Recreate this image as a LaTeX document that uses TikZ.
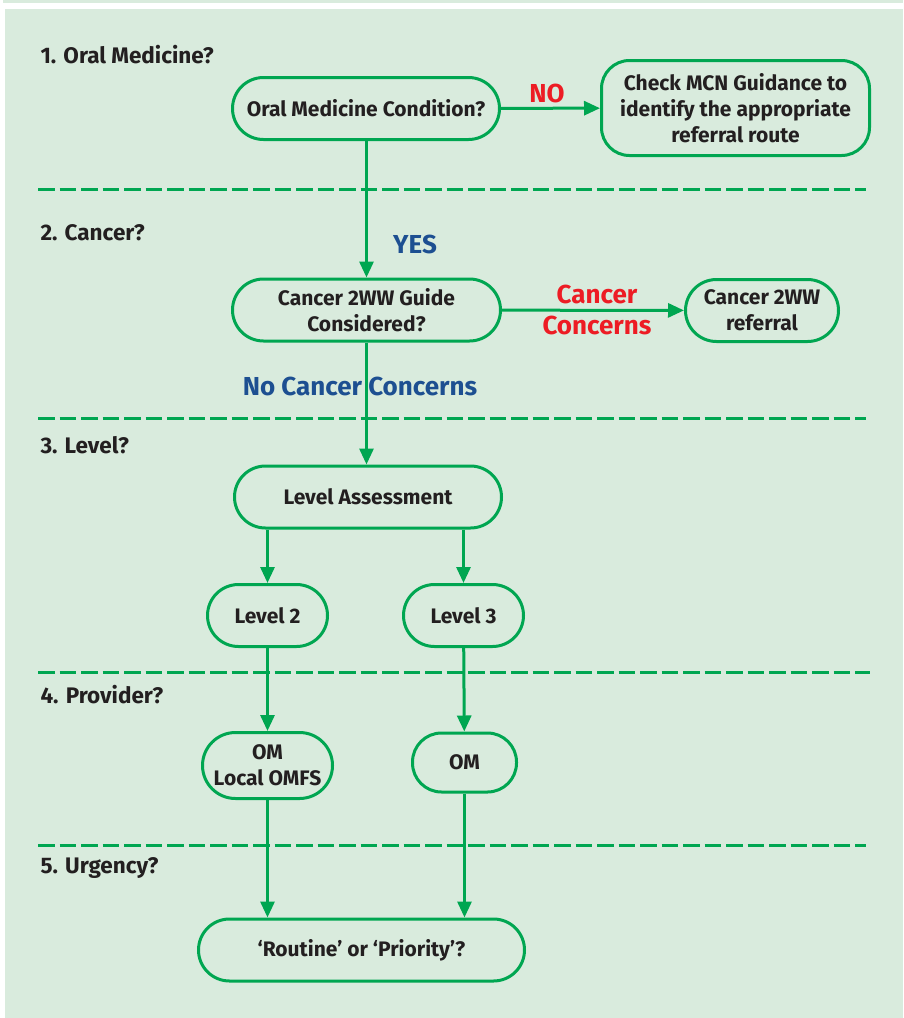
\documentclass[tikz,border=0pt]{standalone}
\usepackage{fontspec}
\setmainfont{Fira Sans}
\usetikzlibrary{arrows.meta}
\definecolor{panelgreen}{HTML}{D9EBDD}
\definecolor{linegreen}{HTML}{00A651}
\definecolor{nored}{HTML}{ED1C24}
\definecolor{yesblue}{HTML}{1D4F91}
\definecolor{inkgrey}{HTML}{231F20}
\tikzset{
  box/.style={draw=linegreen, line width=3pt, align=center, inner sep=0pt,
    text=inkgrey, font=\bfseries\fontsize{21}{26}\selectfont},
  pill/.style={box, rounded corners=31pt, minimum height=62pt},
  flow/.style={draw=linegreen, line width=3pt, -{Triangle[length=16pt,width=14pt]}},
  divider/.style={draw=linegreen, line width=3pt, dash pattern=on 16.5pt off 5pt},
  stagetitle/.style={anchor=west, text=inkgrey, font=\bfseries\fontsize{22.5}{26}\selectfont},
  redlabel/.style={text=nored, align=center, font=\bfseries\fontsize{26}{31}\selectfont},
  bluelabel/.style={text=yesblue, font=\bfseries\fontsize{26}{31}\selectfont}
}
\begin{document}
\begin{tikzpicture}[x=1pt, y=-1pt]
    \useasboundingbox (0,0) rectangle (903,1018);
    \fill[panelgreen] (3,0) rectangle (903,3);
    \fill[panelgreen] (5,9) rectangle (903,1018);

    % stages
    \node[stagetitle] (t1) at (37,55) {1. Oral Medicine?};
    \node[stagetitle] (t2) at (37,233) {2. Cancer?};
    \node[stagetitle] (t3) at (37,445) {3. Level?};
    \node[stagetitle] (t4) at (37,695) {4. Provider?};
    \node[stagetitle] (t5) at (37,868) {5. Urgency?};
    \draw[divider] (38,189) -- (866,189);
    \draw[divider] (38,418) -- (866,418);
    \draw[divider] (38,672) -- (870,672);
    \draw[divider] (38,845) -- (866,845);

    % boxes
    \node[pill, minimum width=267pt] (medq) at (366,108.5) {Oral Medicine Condition?};
    \node[box, rounded corners=28pt, minimum width=268pt, minimum height=95pt] (mcn) at (735.5,108) {Check MCN Guidance to\\identify the appropriate\\referral route};
    \node[pill, minimum width=268pt] (canq) at (366.5,310) {Cancer 2WW Guide\\Considered?};
    \node[pill, minimum width=153pt] (canref) at (762,310.5) {Cancer 2WW\\referral};
    \node[pill, minimum width=267pt] (levass) at (368,497) {Level Assessment};
    \node[pill, minimum width=120pt] (lvtwo) at (267.5,615.5) {Level 2};
    \node[pill, minimum width=120pt] (lvthree) at (463.5,615.5) {Level 3};
    \node[pill, rounded corners=33pt, minimum width=130pt, minimum height=66pt] (omlocal) at (267.5,765.5) {OM\\Local OMFS};
    \node[pill, rounded corners=29pt, minimum width=104pt, minimum height=59pt] (omonly) at (464.5,762.5) {OM};
    \node[pill, minimum width=326pt] (urg) at (361.5,950) {`Routine' or `Priority'?};

    % connectors
    \draw[flow] (medq) -- (mcn);
    \draw[flow] (medq.south -| canq.north) -- (canq.north);
    \draw[flow] (canq) -- (canref);
    \draw[flow] (canq.south) -- (canq.south |- levass.north);
    \draw[flow] (levass.south -| lvtwo.north) -- (lvtwo.north);
    \draw[flow] (levass.south -| lvthree.north) -- (lvthree.north);
    \draw[flow] (lvtwo) -- (omlocal);
    \draw[flow] (lvthree) -- (omonly);
    \draw[flow] (omlocal.south) -- (omlocal.south |- urg.north);
    \draw[flow] (omonly.south) -- (omonly.south |- urg.north);

    % labels
    \node[redlabel] (no) at (547,93) {NO};
    \node[bluelabel] (yes) at (415,244) {YES};
    \node[redlabel] (concern) at (597,310) {Cancer\\Concerns};
    \node[bluelabel] (noconcern) at (360,386) {No Cancer Concerns};
\end{tikzpicture}
\end{document}
